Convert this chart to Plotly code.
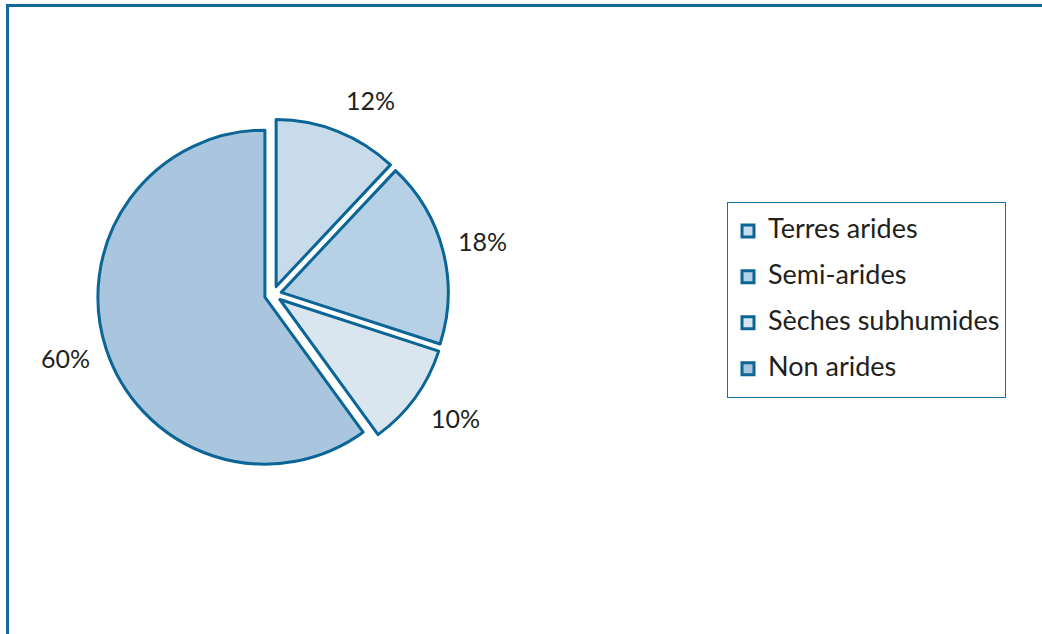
import plotly.graph_objects as go
import math

labels = ["Terres arides", "Semi-arides", "Sèches subhumides", "Non arides"]
values = [12, 18, 10, 60]
colors = ["#c8dbea", "#b6d1e5", "#d9e6f0", "#a9c6de"]

W, H = 1042, 634
cx, cy, R = 273, 294.5, 167   # pie centre and radius in pixels
PULL_PX = 8.5
pulls = [PULL_PX / R] * len(values)

fig = go.Figure()
half = R * (1 + max(pulls))
fig.add_trace(go.Pie(
    labels=[f"<span style='font-size:27px;baseline-shift:6px'>{l}</span>" for l in labels],
    values=values,
    sort=False,
    direction="clockwise",
    rotation=0,
    pull=pulls,
    marker=dict(colors=colors, line=dict(color="#0b6596", width=3)),
    textinfo="none",
    hoverinfo="percent",
    domain=dict(x=[(cx - half) / W, (cx + half) / W],
                y=[1 - (cy + half) / H, 1 - (cy - half) / H]),
))

# percentage labels placed outside each slice
label_r = [217, 216, 220, 217]
angle_shift = [5, 0, -2, 1]
cum = 0
total = sum(values)
for v, lr, sh in zip(values, label_r, angle_shift):
    mid = (cum + v / 2) / total * 360 + sh
    cum += v
    x = cx + lr * math.sin(math.radians(mid))
    y = cy - lr * math.cos(math.radians(mid))
    fig.add_annotation(x=x / W, y=1 - y / H, xref="paper", yref="paper",
                       xanchor="center", yanchor="middle",
                       text=f"{v}%", showarrow=False,
                       font=dict(family="Lato", size=25, color="#231f20"))

fig.update_layout(
    width=W, height=H,
    margin=dict(l=0, r=0, t=0, b=0),
    paper_bgcolor="white",
    plot_bgcolor="white",
    font=dict(family="Lato", color="#231f20"),
    legend=dict(
        x=727 / W, y=1 - 202 / H, xanchor="left", yanchor="top",
        font=dict(size=33, family="Lato", color="#231f20"),
        bordercolor="#1a6e9c", borderwidth=1,
        bgcolor="white",
    ),
    shapes=[
        dict(type="line", xref="paper", yref="paper",
             x0=7.5 / W, x1=7.5 / W, y0=0, y1=1 - 4 / H,
             line=dict(color="#17689a", width=3)),
        dict(type="line", xref="paper", yref="paper",
             x0=6 / W, x1=1, y0=1 - 5.5 / H, y1=1 - 5.5 / H,
             line=dict(color="#17689a", width=3)),
    ],
)

fig.write_html("out.html", config={"displayModeBar": False},
               post_script="document.body.style.margin='0';")
